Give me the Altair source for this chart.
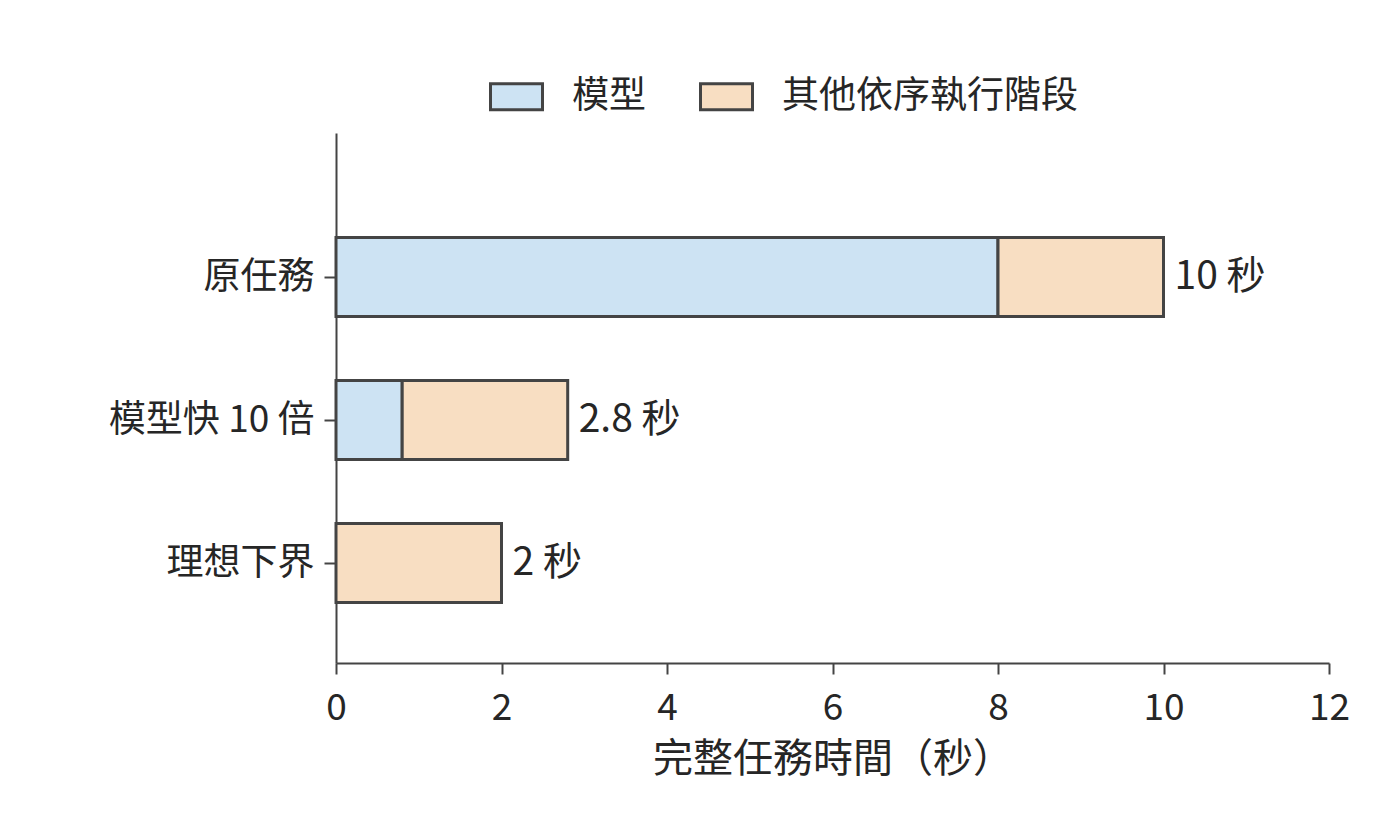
import altair as alt
import pandas as pd

categories = ["原任務", "模型快 10 倍", "理想下界"]
model_time = [8, 0.8, 0]
other_time = [2, 2, 2]
total_labels = ["10 秒", "2.8 秒", "2 秒"]
series = ["模型", "其他依序執行階段"]
x_ticks = [0, 2, 4, 6, 8, 10, 12]

font = "Noto Sans CJK TC"
ink = "#444444"
text_color = "#262626"
fs = 37

rows = []
for i, (cat, m, o) in enumerate(zip(categories, model_time, other_time)):
    if m > 0:
        rows.append({"pos": i, "part": series[0], "seconds": m, "order": 0})
    if o > 0:
        rows.append({"pos": i, "part": series[1], "seconds": o, "order": 1})
bars_df = pd.DataFrame(rows)

totals_df = pd.DataFrame({
    "pos": list(range(len(categories))),
    "total": [m + o for m, o in zip(model_time, other_time)],
    "label": total_labels,
})

label_array = "[" + ",".join(f"'{c}'" for c in categories) + "]"

# categories sit at 0, 1, 2 (top to bottom); extra room above the first bar
y_scale = alt.Scale(domain=[-1.007, 2.699], reverse=True, nice=False, zero=False, padding=0)

y_enc = alt.Y(
    "pos:Q",
    title=None,
    scale=y_scale,
    axis=alt.Axis(
        values=[0, 1, 2], labelExpr=f"{label_array}[datum.value]", grid=False,
        labelFontSize=fs, labelFont=font, labelColor=text_color, labelLimit=0,
        tickSize=12, tickWidth=2, tickColor=ink, labelPadding=10,
        domainColor=ink, domainWidth=2,
    ),
)

bars = (
    alt.Chart(bars_df)
    .mark_bar(stroke=ink, strokeWidth=3, size=79, orient="horizontal")
    .encode(
        x=alt.X(
            "seconds:Q",
            stack="zero",
            title="完整任務時間（秒）",
            scale=alt.Scale(domain=[0, 12], nice=False, padding=0),
            axis=alt.Axis(
                values=x_ticks, format="d", labelFlush=False,
                labelFontSize=fs, labelFont=font, labelColor=text_color,
                titleFontSize=40, titleFont=font, titleColor=text_color, titleFontWeight="normal",
                tickSize=11, tickWidth=2, tickColor=ink, labelPadding=16, titlePadding=13,
                domainColor=ink, domainWidth=2, grid=False,
            ),
        ),
        y=y_enc,
        color=alt.Color(
            "part:N",
            scale=alt.Scale(domain=series, range=["#cde3f3", "#f8dec2"]),
            legend=alt.Legend(
                title=None, orient="none", direction="horizontal",
                legendX=153, legendY=-64, padding=0,
                symbolType="M-1,-0.5H1V0.5H-1Z", symbolSize=2704,
                symbolStrokeColor=ink, symbolStrokeWidth=3,
                labelFontSize=fs, labelFont=font, labelColor=text_color,
                labelOffset=28, columnPadding=48, labelLimit=0,
            ),
        ),
        order=alt.Order("order:Q"),
    )
)

labels = (
    alt.Chart(totals_df)
    .mark_text(align="left", baseline="middle", dx=11, fontSize=39, font=font, color=text_color)
    .encode(x="total:Q", y=alt.Y("pos:Q", scale=y_scale), text="label:N")
)

chart = (
    alt.layer(bars, labels)
    .properties(
        width=993, height=530,
        autosize=alt.AutoSizeParams(type="none"),
        padding={"left": 328, "top": 125, "right": 55, "bottom": 170},
    )
    .configure_view(stroke=None)
)

chart.save("out.html", embed_options={"renderer": "svg", "actions": False})
